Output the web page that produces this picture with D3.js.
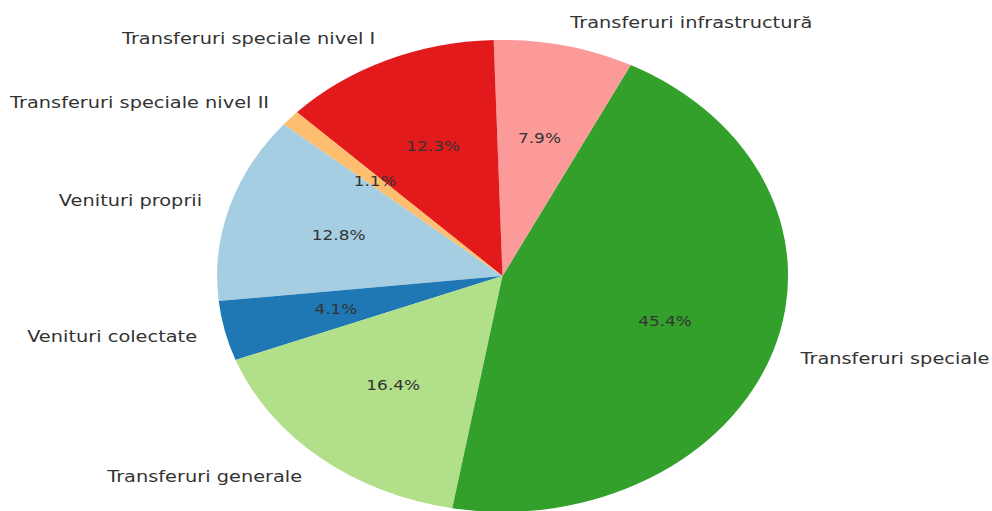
<!DOCTYPE html>
<meta charset="utf-8">
<head>
    <title>Pie</title>
    <script src="https://cdn.jsdelivr.net/npm/d3@7"></script>
    <style>
        body { margin: 0; background: #fff; }
        text { font-family: "DejaVu Sans", sans-serif; fill: #333; }
    </style>
</head>
<body>
    <div id="pie"></div>
    <script>
        // data (share of total, %)
        const labels = ["Venituri proprii", "Venituri colectate", "Transferuri generale",
            "Transferuri speciale", "Transferuri infrastructură",
            "Transferuri speciale nivel I", "Transferuri speciale nivel II"];
        const values = [12.8, 4.1, 16.4, 45.4, 7.9, 12.3, 1.1];
        const colors = ["#a6cee3", "#1f78b4", "#b2df8a", "#33a02c", "#fb9a99", "#e31a1c", "#fdbf6f"];

        const width = 992, height = 511;
        const cx = 502.5, cy = 276;
        const rx = 285.5, ry = 236;
        // the whole picture is stretched sideways, text too
        const stretch = rx / ry;
        // matplotlib startangle 140 deg, counter clockwise
        const start = (90 - 140) * Math.PI / 180;

        const svg = d3.select("#pie").append("svg")
            .attr("width", width)
            .attr("height", height);

        const pie = d3.pie().sort(null)
            .startAngle(start)
            .endAngle(start - 2 * Math.PI);
        const arcs = pie(values);

        const arc = d3.arc().innerRadius(0).outerRadius(1);

        svg.append("g")
            .attr("transform", "translate(" + cx + "," + cy + ") scale(" + rx + "," + ry + ")")
            .selectAll("path")
            .data(arcs)
            .enter()
            .append("path")
            .attr("d", arc)
            .attr("fill", (d, i) => colors[i]);

        // point on the ellipse at fraction k of the radius, at the slice middle
        function pos(d, k) {
            const a = (d.startAngle + d.endAngle) / 2;
            return [cx + k * rx * Math.sin(a), cy - k * ry * Math.cos(a)];
        }

        svg.append("g").selectAll("text")
            .data(arcs)
            .enter()
            .append("text")
            .attr("transform", d => "translate(" + pos(d, 1.1) + ") scale(" + stretch + ",1)")
            .attr("dy", "0.35em")
            .attr("text-anchor", d => pos(d, 1.1)[0] > cx ? "start" : "end")
            .style("font-size", "16px")
            .text((d, i) => labels[i]);

        svg.append("g").selectAll("text")
            .data(arcs)
            .enter()
            .append("text")
            .attr("transform", d => "translate(" + pos(d, 0.6) + ") scale(" + stretch + ",1)")
            .attr("dy", "0.35em")
            .attr("text-anchor", "middle")
            .style("font-size", "14px")
            .text((d, i) => d3.format(".1f")(values[i]) + "%");
    </script>
</body>
